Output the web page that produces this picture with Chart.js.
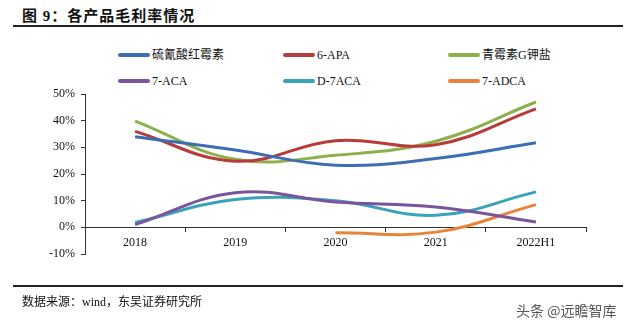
<!DOCTYPE html>
<html>
<head>
<meta charset="utf-8">
<script src="https://cdn.jsdelivr.net/npm/chart.js@4.4.1/dist/chart.umd.min.js"></script>
<style>
  html, body { margin: 0; padding: 0; background: #fff; }
  body { width: 640px; height: 327px; position: relative; overflow: hidden;
         font-family: "Liberation Serif", "Noto Sans CJK SC", serif; color: #111; }
  #wrap { position: absolute; left: 0; top: 0; width: 640px; height: 327px; }
  .title { position: absolute; left: 22px; top: 4px; font-size: 15px; font-weight: bold;
           font-family: "Liberation Serif", "Noto Sans CJK SC", serif; letter-spacing: 1px; }
  .rule { position: absolute; left: 13px; width: 610px; height: 2px; background: #222; }
  .legend { position: absolute; left: 118px; top: 46px; width: 520px; }
  .item { position: absolute; font-size: 12px; line-height: 18px; white-space: nowrap; }
  .item span.sw { display: inline-block; width: 32px; height: 4px; border-radius: 2px;
                  vertical-align: middle; margin-right: 2px; position: relative; top: -1px; }
  .source { position: absolute; left: 22px; top: 292px; font-size: 12px; }
  .mark { position: absolute; left: 516px; top: 300px; font-size: 14px; color: #555;
          font-family: "Noto Sans CJK SC", sans-serif; }
</style>
</head>
<body>
<div class="title">图 9：各产品毛利率情况</div>
<div class="rule" style="top:25px"></div>
<div class="legend" id="legend"></div>
<div id="wrap"><canvas id="chart" width="640" height="327"></canvas></div>
<div class="rule" style="top:285px"></div>
<div class="source">数据来源：wind，东吴证券研究所</div>
<div class="mark">头条 @远瞻智库</div>
<script>
// Data (gross margin, %)
const years = ['2018', '2019', '2020', '2021', '2022H1'];
const erythromycin = [34, 29, 23.3, 25.8, 31.7];   // 硫氰酸红霉素
const apa6 = [36, 24.8, 32.5, 31, 44.4];             // 6-APA
const penicillinG = [39.8, 25.5, 27, 32.3, 47];      // 青霉素G钾盐
const aca7 = [1, 13, 9.5, 7.6, 2];                   // 7-ACA
const d7aca = [1.8, 10.4, 10, 4.5, 13.3];            // D-7ACA
const adca7 = [null, null, -2, -1.8, 8.5];           // 7-ADCA
const yTicks = [-10, 0, 10, 20, 30, 40, 50];

const series = [
    { label: '硫氰酸红霉素', data: erythromycin, color: '#3D6EB4' },
    { label: '6-APA', data: apa6, color: '#B63B3A' },
    { label: '青霉素G钾盐', data: penicillinG, color: '#8DB04D' },
    { label: '7-ACA', data: aca7, color: '#7A559E' },
    { label: 'D-7ACA', data: d7aca, color: '#3BA2BC' },
    { label: '7-ADCA', data: adca7, color: '#E8843A' }
];

// legend laid out as a 3x2 grid like the reference
const legend = document.getElementById('legend');
series.forEach((s, i) => {
    const el = document.createElement('div');
    el.className = 'item';
    el.style.left = (i % 3) * 165 + 'px';
    el.style.top = Math.floor(i / 3) * 26 + 'px';
    el.innerHTML = `<span class="sw" style="background:${s.color}"></span>${s.label}`;
    legend.appendChild(el);
});

const tickFont = { family: '"Liberation Serif", serif', size: 12 };

new Chart(document.getElementById('chart'), {
    type: 'line',
    data: {
        labels: years,
        datasets: series.map(s => ({
            label: s.label,
            data: s.data,
            borderColor: s.color,
            backgroundColor: s.color,
            borderWidth: 3,
            pointRadius: 0,
            tension: 0.4,
            fill: false
        }))
    },
    options: {
        responsive: false,
        animation: false,
        layout: { padding: { left: 0, right: 54, top: 94, bottom: 73 } },
        plugins: { legend: { display: false }, tooltip: { enabled: false } },
        scales: {
            x: {
                position: { y: 0 },
                offset: true,
                grid: { display: true, drawOnChartArea: false, drawTicks: true, tickLength: 4, color: '#333', offset: true },
                border: { display: true, color: '#333', width: 1 },
                ticks: { color: '#111', font: tickFont, padding: 4, maxRotation: 0 }
            },
            y: {
                min: -10,
                max: 50,
                afterFit: s => { s.width = 85; },
                afterBuildTicks: s => { s.ticks = yTicks.map(v => ({ value: v })); },
                grid: { drawOnChartArea: false, drawTicks: true, tickLength: 4, color: '#333' },
                border: { display: true, color: '#333', width: 1 },
                ticks: { color: '#111', font: tickFont, padding: 6, callback: v => v + '%' }
            }
        }
    }
});
</script>
</body>
</html>
